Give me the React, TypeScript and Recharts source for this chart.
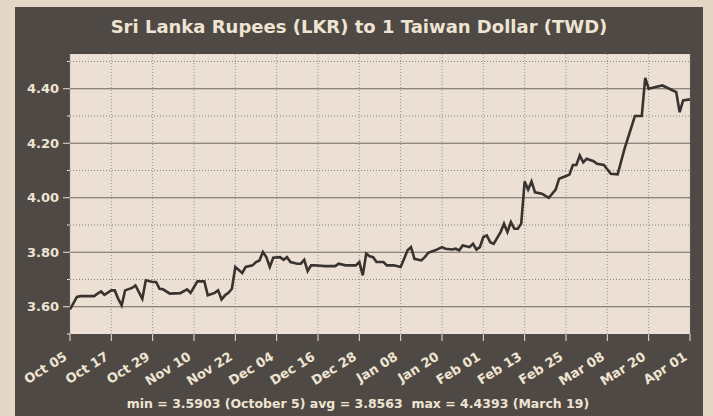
import { LineChart, Line, XAxis, YAxis, CartesianGrid, ReferenceLine } from 'recharts'

// day offsets from Oct 05 and the rate
const days = [
  0, 2, 3, 7, 8, 9, 10, 12, 13, 14, 15, 16, 18, 19, 20, 21, 22, 24, 25, 26, 27, 29, 32, 34, 35, 37, 39, 40,
  42, 43, 44, 45, 46, 47, 48, 50, 51, 53, 54, 55, 56, 57, 58, 59, 61, 62, 63, 64, 66, 67, 68, 69, 70, 71,
  74, 77, 78, 80, 83, 84, 85, 86, 87, 88, 89, 91, 92, 94, 96, 97, 98, 99, 100, 102, 103, 104, 106, 108,
  109, 111, 112, 113, 114, 116, 117, 118, 119, 120, 121, 122, 123, 125, 126, 127, 128, 129, 130, 131,
  132, 133, 134, 135, 137, 139, 141, 142, 144, 145, 146, 147, 148, 149, 150, 152, 153, 155, 157, 159,
  161, 162, 164, 166, 167, 168, 170, 172, 174, 176, 177, 178, 180,
]
const rates = [
  3.59, 3.636, 3.639, 3.639, 3.648, 3.656, 3.644, 3.66, 3.66, 3.629, 3.605, 3.66, 3.669, 3.678, 3.654,
  3.629, 3.697, 3.691, 3.691, 3.666, 3.664, 3.648, 3.65, 3.664, 3.651, 3.693, 3.693, 3.642, 3.651, 3.66,
  3.627, 3.642, 3.651, 3.666, 3.746, 3.724, 3.746, 3.752, 3.764, 3.77, 3.801, 3.782, 3.746, 3.78, 3.782,
  3.772, 3.782, 3.764, 3.758, 3.758, 3.772, 3.731, 3.752, 3.752, 3.749, 3.749, 3.758, 3.752, 3.752,
  3.764, 3.715, 3.795, 3.785, 3.782, 3.764, 3.764, 3.752, 3.752, 3.746, 3.776, 3.807, 3.819, 3.776,
  3.77, 3.782, 3.798, 3.807, 3.819, 3.813, 3.81, 3.813, 3.807, 3.825, 3.819, 3.831, 3.81, 3.819, 3.856,
  3.862, 3.837, 3.831, 3.874, 3.905, 3.874, 3.911, 3.886, 3.886, 3.905, 4.06, 4.03, 4.06, 4.02, 4.015,
  4.0, 4.03, 4.07, 4.08, 4.085, 4.12, 4.12, 4.155, 4.13, 4.143, 4.134, 4.125, 4.12, 4.088, 4.086, 4.18,
  4.22, 4.3, 4.3, 4.44, 4.4, 4.406, 4.412, 4.4, 4.388, 4.314, 4.357, 4.361,
]

const tickDays = [0, 12, 24, 36, 48, 60, 72, 84, 96, 108, 120, 132, 144, 156, 168, 180]
const tickLabels = [
  'Oct 05', 'Oct 17', 'Oct 29', 'Nov 10', 'Nov 22', 'Dec 04', 'Dec 16', 'Dec 28',
  'Jan 08', 'Jan 20', 'Feb 01', 'Feb 13', 'Feb 25', 'Mar 08', 'Mar 20', 'Apr 01',
]
const yTicks = [3.5, 3.6, 3.7, 3.8, 3.9, 4.0, 4.1, 4.2, 4.3, 4.4, 4.5]
const majorLines = [3.6, 3.8, 4.0, 4.2, 4.4]
const minorLines = [3.7, 3.9, 4.1, 4.3, 4.5]

const data = days.map((d, i) => ({ day: d, rate: rates[i] }))

const FONT = '"DejaVu Sans", Verdana, sans-serif'
const CREAM = '#efe4d2'

const isMajor = (v: number) => majorLines.some((m) => Math.abs(m - v) < 1e-6)

function YTick(props: any) {
  const { x, y, payload } = props
  const major = isMajor(payload.value)
  return (
    <g>
      <line x1={x - (major ? 7 : 3)} x2={x} y1={y} y2={y} stroke={CREAM} strokeWidth={1} />
      {major && (
        <text x={x - 11} y={y + 4.5} textAnchor="end" fill={CREAM} fontSize={13} fontWeight="bold" fontFamily={FONT}>
          {payload.value.toFixed(2)}
        </text>
      )}
    </g>
  )
}

function XTick(props: any) {
  const { x, y, payload } = props
  const idx = tickDays.indexOf(payload.value)
  return (
    <g>
      <line x1={x} x2={x} y1={y} y2={y + 7} stroke={CREAM} strokeWidth={1} />
      <text
        transform={`translate(${x - 2},${y + 25}) rotate(-32)`}
        textAnchor="end"
        fill={CREAM}
        fontSize={13}
        fontWeight="bold"
        fontFamily={FONT}
      >
        {tickLabels[idx]}
      </text>
    </g>
  )
}

export default function App() {
  return (
    <div style={{ position: 'fixed', left: 0, top: 0, width: 713, height: 416, background: '#e4d7c6', overflow: 'hidden' }}>
      <div style={{ position: 'absolute', left: 15, top: 7, width: 688, height: 409, background: '#4e4944' }} />
      <div style={{ position: 'absolute', left: 0, top: 0 }}>
        <LineChart width={713} height={416} data={data} margin={{ top: 54, right: 23, bottom: 22, left: 0 }}>
          <CartesianGrid
            fill="#ecdfd3"
            horizontal={false}
            stroke="#9a928a"
            strokeDasharray="1 2"
            verticalPoints={undefined}
          />
          {majorLines.map((v) => (
            <ReferenceLine key={'M' + v} y={v} stroke="#6f6862" strokeWidth={1} />
          ))}
          {minorLines.map((v) => (
            <ReferenceLine key={'m' + v} y={v} stroke="#8c847c" strokeWidth={1} strokeDasharray="1 2" />
          ))}
          <XAxis
            dataKey="day"
            type="number"
            domain={[0, 180]}
            ticks={tickDays}
            interval={0}
            height={60}
            axisLine={false}
            tickLine={false}
            tickSize={0}
            tickMargin={0}
            tick={<XTick />}
          />
          <YAxis
            type="number"
            domain={[3.5, 4.5275]}
            ticks={yTicks}
            interval={0}
            width={70}
            axisLine={false}
            tickLine={false}
            tickSize={0}
            tickMargin={0}
            allowDataOverflow
            tick={<YTick />}
          />
          <Line
            type="linear"
            dataKey="rate"
            stroke="#38332f"
            strokeWidth={2.6}
            dot={false}
            isAnimationActive={false}
          />
        </LineChart>
      </div>
      <svg width={713} height={416} style={{ position: 'absolute', left: 0, top: 0, pointerEvents: 'none' }}>
        <text x={359} y={33} textAnchor="middle" fill={CREAM} fontSize={18} fontWeight="bold" fontFamily={FONT}>
          Sri Lanka Rupees (LKR) to 1 Taiwan Dollar (TWD)
        </text>
        <text
          x={358}
          y={408}
          textAnchor="middle"
          fill={CREAM}
          fontSize={12.5}
          fontWeight="bold"
          fontFamily={FONT}
          style={{ whiteSpace: 'pre' }}
        >
          {'min = 3.5903 (October 5) avg = 3.8563  max = 4.4393 (March 19)'}
        </text>
      </svg>
    </div>
  )
}
